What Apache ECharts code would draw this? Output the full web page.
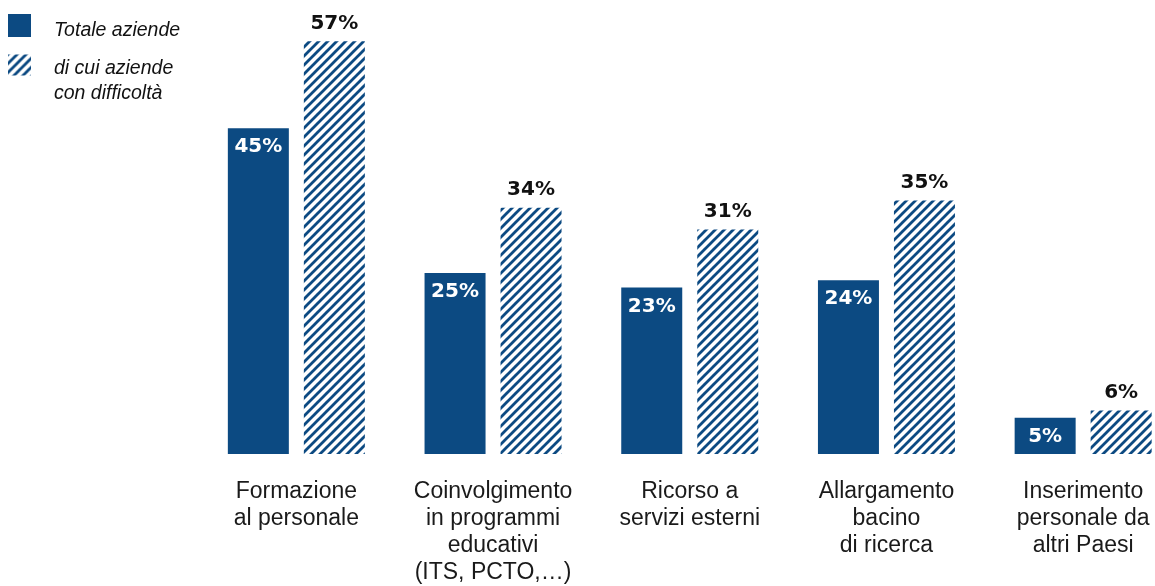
<!DOCTYPE html>
<html>
<head>
<meta charset="utf-8">
<script src="https://cdn.jsdelivr.net/npm/echarts@6/dist/echarts.min.js"></script>
<style>
html,body{margin:0;padding:0;background:#fff;}
#chart{width:1155px;height:586px;}
</style>
</head>
<body>
<div id="chart"></div>
<script>
const categories = [
  "Formazione\nal personale",
  "Coinvolgimento\nin programmi\neducativi\n(ITS, PCTO,…)",
  "Ricorso a\nservizi esterni",
  "Allargamento\nbacino\ndi ricerca",
  "Inserimento\npersonale da\naltri Paesi"
];
const seriesNames = ["Totale aziende", "di cui aziende\ncon difficoltà"];
const totaleValues = [45, 25, 23, 24, 5];
const difficoltaValues = [57, 34, 31, 35, 6];

const BLUE = '#0c4a82';

function makeHatch() {
  const s = 9;
  const c = document.createElement('canvas');
  c.width = s; c.height = s;
  const ctx = c.getContext('2d');
  ctx.fillStyle = '#fff';
  ctx.fillRect(0, 0, s, s);
  ctx.strokeStyle = BLUE;
  ctx.lineWidth = 2.8;
  ctx.lineCap = 'square';
  ctx.beginPath();
  ctx.moveTo(-2, s + 2); ctx.lineTo(s + 2, -2);
  ctx.moveTo(-2, 2); ctx.lineTo(2, -2);
  ctx.moveTo(s - 2, s + 2); ctx.lineTo(s + 2, s - 2);
  ctx.stroke();
  return c;
}
const hatch = { image: makeHatch(), repeat: 'repeat' };

const chart = echarts.init(document.getElementById('chart'), null, { renderer: 'canvas' });
const richA = { fontFamily: 'Liberation Sans', fontStyle: 'italic', fontSize: 19.5, color: '#111', lineHeight: 25 };
chart.setOption({
  animation: false,
  backgroundColor: '#fff',
  legend: [
    {
      data: [seriesNames[0]],
      left: 8, top: 11, padding: 0,
      itemWidth: 23, itemHeight: 23,
      icon: 'rect',
      selectedMode: false,
      formatter: function (n) { return '{e| }\n{a|' + n + '}'; },
      textStyle: {
        padding: [0, 0, 0, 18],
        rich: { a: richA, e: { fontSize: 4, lineHeight: 11 } }
      }
    },
    {
      data: [seriesNames[1]],
      left: 8, top: 38, padding: 0,
      itemWidth: 23, itemHeight: 21,
      icon: 'rect',
      selectedMode: false,
      formatter: function (n) {
        return '{e| }\n' + n.split('\n').map(function (s) { return '{a|' + s + '}'; }).join('\n');
      },
      textStyle: {
        padding: [0, 0, 0, 18],
        rich: { a: richA, e: { fontSize: 4, lineHeight: 33 } }
      }
    }
  ],
  grid: { left: 198, width: 983.5, top: 19.6, bottom: 132, containLabel: false, outerBoundsMode: 'none' },
  xAxis: {
    type: 'category',
    data: categories,
    axisLine: { show: false },
    axisTick: { show: false },
    axisLabel: {
      interval: 0,
      margin: 24.5,
      fontFamily: 'Liberation Sans',
      fontSize: 23,
      lineHeight: 27,
      color: '#1a1a1a',
      align: 'center'
    }
  },
  yAxis: {
    type: 'value',
    min: 0, max: 60,
    show: false,
    splitLine: { show: false }
  },
  series: [
    {
      name: seriesNames[0],
      type: 'bar',
      data: totaleValues,
      barWidth: 61,
      barGap: '24.6%',
      itemStyle: { color: BLUE },
      label: {
        show: true,
        position: 'insideTop',
        distance: 9,
        formatter: '{c}%',
        fontFamily: 'DejaVu Sans',
        fontWeight: 'bold',
        fontSize: 20,
        color: '#fff'
      }
    },
    {
      name: seriesNames[1],
      type: 'bar',
      data: difficoltaValues,
      barWidth: 61,
      barGap: '24.6%',
      itemStyle: { color: hatch },
      label: {
        show: true,
        position: 'top',
        distance: 8,
        formatter: '{c}%',
        fontFamily: 'DejaVu Sans',
        fontWeight: 'bold',
        fontSize: 20,
        color: '#111'
      }
    }
  ]
});
</script>
</body>
</html>
